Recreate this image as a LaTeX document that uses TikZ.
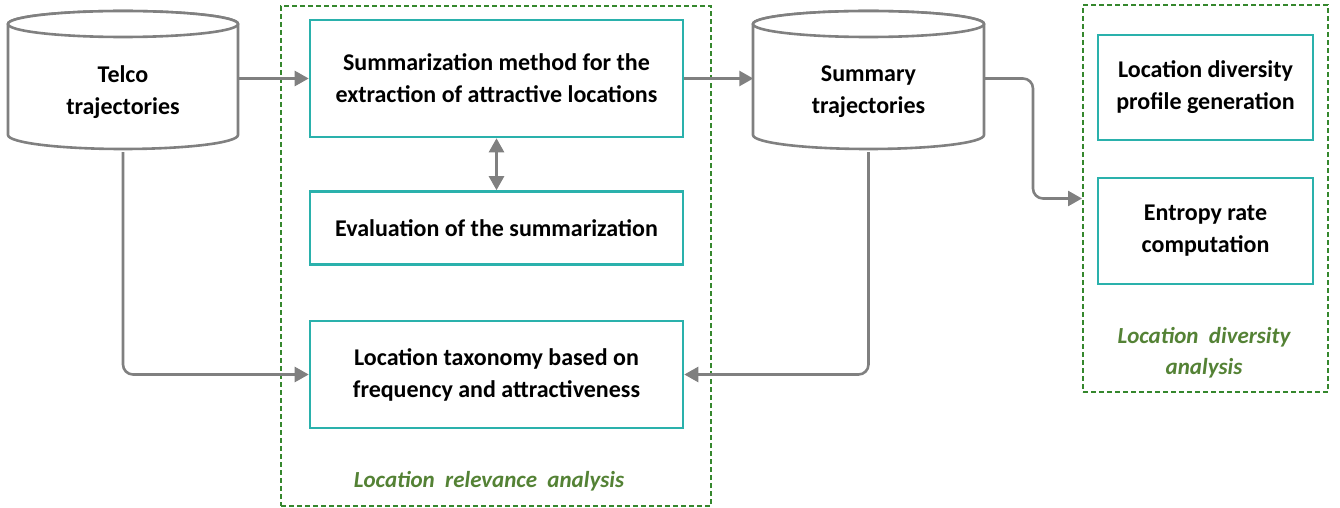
\documentclass[tikz,border=0pt]{standalone}
\usepackage{fontspec}
\setmainfont{Carlito}
\usetikzlibrary{arrows.meta,calc}
\definecolor{teal1}{HTML}{2AB1AC}
\definecolor{grayc}{HTML}{808080}
\definecolor{dgreen}{HTML}{35872D}
\definecolor{lgreen}{HTML}{548235}
\begin{document}
\begin{tikzpicture}[x=1pt,y=1pt,
  txt/.style={font=\fontsize{24}{32}\selectfont\bfseries, align=center, text=black},
  procbox/.style={txt, draw=teal1, line width=2.6pt, minimum width=373pt, inner sep=0pt},
  cylnode/.style={txt, minimum width=230pt, minimum height=120pt, inner sep=0pt},
  cylline/.style={draw=grayc, line width=2.6pt, fill=white},
  grp/.style={draw=dgreen, line width=2pt, dash pattern=on 5pt off 3pt},
  grplabel/.style={font=\fontsize{23}{31}\selectfont\bfseries\itshape, text=lgreen, align=center},
  conn/.style={draw=grayc, line width=2.6pt, rounded corners=10pt, -{Triangle[length=14pt,width=15pt]}},
  dconn/.style={draw=grayc, line width=2.6pt, {Triangle[length=14pt,width=15pt]}-{Triangle[length=14pt,width=15pt]}}
]
\useasboundingbox (0,0) rectangle (1340,-508);

% group boxes
\node[grp, minimum width=430pt, minimum height=500pt, inner sep=0pt] (grp1) at (496,-256) {};
\node[grp, minimum width=245pt, minimum height=387pt, inner sep=0pt] (grp2) at (1205.5,-198.5) {};

% cylinders
\path[cylline] (8,-24) -- (8,-135) arc[start angle=180, end angle=360, x radius=115, y radius=14] -- (238,-24) arc[start angle=0, end angle=180, x radius=115, y radius=13] -- cycle;
\draw[cylline] (123,-24) ellipse[x radius=115, y radius=13];
\node[cylnode] (telco) at (123,-92) {Telco\\trajectories};

\path[cylline] (753,-24) -- (753,-135) arc[start angle=180, end angle=360, x radius=115.5, y radius=14] -- (984,-24) arc[start angle=0, end angle=180, x radius=115.5, y radius=13] -- cycle;
\draw[cylline] (868.5,-24) ellipse[x radius=115.5, y radius=13];
\node[cylnode] (summ) at (868.5,-92) {Summary\\trajectories};

% process boxes
\node[procbox, minimum height=117pt] (sum) at (496.5,-78.5) {Summarization method for the\\extraction of attractive locations};
\node[procbox, minimum height=73pt] (eval) at (496.5,-228) {Evaluation of the summarization};
\node[procbox, minimum height=107pt] (tax) at (496.5,-374.5) {Location taxonomy based on\\frequency and attractiveness};
\node[procbox, minimum width=215pt, minimum height=105pt] (prof) at (1205.5,-87.5) {Location diversity\\profile generation};
\node[procbox, minimum width=215pt, minimum height=106pt] (ent) at (1205.5,-231) {Entropy rate\\computation};

% group labels
\node[grplabel] (lab1) at (489,-481) {Location\ \ relevance\ \ analysis};
\node[grplabel] (lab2) at (1204,-353) {Location\ \ diversity\\analysis};

% connectors
\draw[conn] (telco.east |- sum.west) -- (sum.west);
\draw[conn] (sum.east) -- (summ.west |- sum.east);
\draw[dconn] (sum.south) -- (eval.north);
\draw[conn] (telco.south) |- (tax.west);
\draw[conn] (summ.south) |- (tax.east);
\draw[conn] (summ.east |- sum.east) -- (1033,-78.5) |- (grp2.west);
\end{tikzpicture}
\end{document}
